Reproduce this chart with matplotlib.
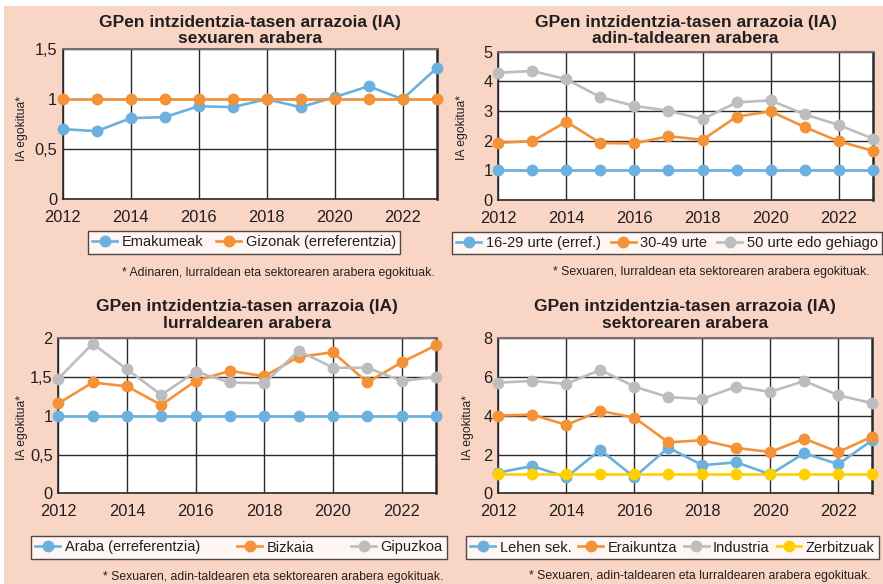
"""
plot.py
-------
Ratio of occupational disease incidence rates (IA), four panels:
by sex, age group, territory and sector.
"""

import matplotlib.pyplot as plt
from matplotlib.patches import Rectangle

plt.rcParams["font.family"] = ["Liberation Sans", "DejaVu Sans"]

# ---------------------------------------------------------------------------
# Data
# ---------------------------------------------------------------------------

years = [2012, 2013, 2014, 2015, 2016, 2017, 2018, 2019, 2020, 2021, 2022, 2023]
x_ticks = [2012, 2014, 2016, 2018, 2020, 2022]

# sexuaren arabera
emakumeak = [0.70, 0.68, 0.81, 0.82, 0.93, 0.92, 1.00, 0.92, 1.02, 1.13, 1.00, 1.31]
gizonak = [1, 1, 1, 1, 1, 1, 1, 1, 1, 1, 1, 1]

# adin-taldearen arabera
adin_16_29 = [1, 1, 1, 1, 1, 1, 1, 1, 1, 1, 1, 1]
adin_30_49 = [1.93, 1.98, 2.64, 1.92, 1.91, 2.15, 2.03, 2.81, 2.99, 2.46, 1.98, 1.66]
adin_50_plus = [4.29, 4.35, 4.07, 3.47, 3.17, 3.01, 2.72, 3.29, 3.36, 2.89, 2.53, 2.07]

# lurraldearen arabera
araba = [1, 1, 1, 1, 1, 1, 1, 1, 1, 1, 1, 1]
bizkaia = [1.16, 1.43, 1.38, 1.14, 1.45, 1.58, 1.51, 1.76, 1.82, 1.43, 1.69, 1.91]
gipuzkoa = [1.48, 1.93, 1.60, 1.27, 1.57, 1.43, 1.42, 1.84, 1.62, 1.62, 1.45, 1.50]

# sektorearen arabera
lehen_sek = [1.07, 1.41, 0.83, 2.24, 0.83, 2.36, 1.45, 1.60, 0.98, 2.07, 1.50, 2.75]
eraikuntza = [4.01, 4.06, 3.53, 4.25, 3.91, 2.63, 2.74, 2.34, 2.13, 2.82, 2.13, 2.93]
industria = [5.71, 5.80, 5.65, 6.37, 5.51, 4.96, 4.87, 5.51, 5.23, 5.80, 5.06, 4.65]
zerbitzuak = [1, 1, 1, 1, 1, 1, 1, 1, 1, 1, 1, 1]

# ---------------------------------------------------------------------------
# Style
# ---------------------------------------------------------------------------

W, H = 883, 584
BG = "#F9D5C6"
TEXT = "#231F20"
BLUE = "#6CB0E0"
ORANGE = "#F39237"
GREY = "#BDBDBD"
YELLOW = "#FFD000"

TITLE_1 = "GPen intzidentzia-tasen arrazoia (IA)"


def px_box(left, top, right, bottom):
    """Convert a pixel box (origin top-left) to figure fractions."""
    return [left / W, 1 - bottom / H, (right - left) / W, (bottom - top) / H]


def draw_panel(fig, box, series, yticks, yticklabels, subtitle, title_y,
               ylabel_xy, legend_box, note, note_xy):
    """Draw one panel: titles, axes, lines, legend and footnote."""
    ax = fig.add_axes(px_box(*box))
    ax.set_facecolor("white")

    for values, colour, label in series:
        ax.plot(years, values, color=colour, lw=1.9, marker="o", ms=7.5,
                label=label, clip_on=False, zorder=3)

    ax.set_xlim(2012, 2023)
    ax.set_ylim(yticks[0], yticks[-1])
    ax.set_xticks(x_ticks)
    ax.set_yticks(yticks)
    ax.set_yticklabels(yticklabels)
    ax.tick_params(length=0, labelsize=11.8, colors=TEXT)
    ax.tick_params(axis="x", pad=8)
    ax.tick_params(axis="y", pad=4)
    ax.grid(True, color="#2a2a2a", lw=1.0, zorder=1)
    for side in ["left", "bottom"]:
        ax.spines[side].set_color("#2a2a2a")
        ax.spines[side].set_linewidth(1.2)
    ax.spines["top"].set_color("#7a6e6e")
    ax.spines["top"].set_linewidth(1.5)
    ax.spines["right"].set_color("#2a2a2a")
    ax.spines["right"].set_linewidth(1.8)

    cx = (box[0] + box[2]) / 2
    fig.text(cx / W, 1 - title_y[0] / H, TITLE_1, ha="center", va="center",
             fontsize=12.5, fontweight="bold", color=TEXT)
    fig.text(cx / W, 1 - title_y[1] / H, subtitle, ha="center", va="center",
             fontsize=12.5, fontweight="bold", color=TEXT)

    fig.text(ylabel_xy[0] / W, 1 - ylabel_xy[1] / H, "IA egokitua*",
             rotation=90, ha="center", va="center", fontsize=8.7, color=TEXT)

    handles, labels = ax.get_legend_handles_labels()
    lb = px_box(*legend_box)
    leg = fig.legend(handles, labels, loc="center", bbox_to_anchor=lb,
                     mode="expand", ncol=len(series), fontsize=10.5,
                     frameon=True, fancybox=False, handlelength=1.7,
                     handletextpad=0.3, columnspacing=0.4,
                     borderaxespad=0, borderpad=0.3)
    leg.get_frame().set_edgecolor("#231F20")
    leg.get_frame().set_linewidth(1.0)
    for t in leg.get_texts():
        t.set_color(TEXT)

    fig.text(note_xy[0] / W, 1 - note_xy[1] / H, note, ha="right",
             va="center", fontsize=8.8, color=TEXT)
    return ax


# ---------------------------------------------------------------------------
# Figure
# ---------------------------------------------------------------------------

fig = plt.figure(figsize=(W / 100, H / 100), dpi=100)
fig.patch.set_facecolor("white")
fig.patches.append(Rectangle((4 / W, 0), 1, 1 - 6 / H, transform=fig.transFigure,
                             facecolor=BG, edgecolor="none", zorder=-10))

draw_panel(fig, (62.7, 49.3, 436.5, 199),
           [(emakumeak, BLUE, "Emakumeak"),
            (gizonak, ORANGE, "Gizonak (erreferentzia)")],
           [0, 0.5, 1, 1.5], ["0", "0,5", "1", "1,5"],
           "sexuaren arabera", (22.7, 38.5), (22, 129),
           (88, 228, 400, 257),
           "* Adinaren, lurraldean eta sektorearen arabera egokituak.",
           (435, 273))

draw_panel(fig, (498.3, 51.7, 872.7, 200),
           [(adin_16_29, BLUE, "16-29 urte (erref.)"),
            (adin_30_49, ORANGE, "30-49 urte"),
            (adin_50_plus, GREY, "50 urte edo gehiago")],
           [0, 1, 2, 3, 4, 5], ["0", "1", "2", "3", "4", "5"],
           "adin-taldearen arabera", (22.7, 38.5), (461.7, 127),
           (452, 229, 882, 257),
           "* Sexuaren, lurraldean eta sektorearen arabera egokituak.",
           (870, 272))

draw_panel(fig, (58.3, 338.3, 436, 493.3),
           [(araba, BLUE, "Araba (erreferentzia)"),
            (bizkaia, ORANGE, "Bizkaia"),
            (gipuzkoa, GREY, "Gipuzkoa")],
           [0, 0.5, 1, 1.5, 2], ["0", "0,5", "1", "1,5", "2"],
           "lurraldearen arabera", (306.7, 323.3), (21.7, 428),
           (31, 536, 447, 559),
           "* Sexuaren, adin-taldearen eta sektorearen arabera egokituak.",
           (443, 577))

draw_panel(fig, (498.3, 338.3, 872.3, 493.3),
           [(lehen_sek, BLUE, "Lehen sek."),
            (eraikuntza, ORANGE, "Eraikuntza"),
            (industria, GREY, "Industria"),
            (zerbitzuak, YELLOW, "Zerbitzuak")],
           [0, 2, 4, 6, 8], ["0", "2", "4", "6", "8"],
           "sektorearen arabera", (306.7, 323.3), (468, 427),
           (466, 536, 879, 559),
           "* Sexuaren, adin-taldearen eta lurraldearen arabera egokituak.",
           (871, 576))

fig.savefig("out.png", dpi=100, facecolor=fig.get_facecolor())
